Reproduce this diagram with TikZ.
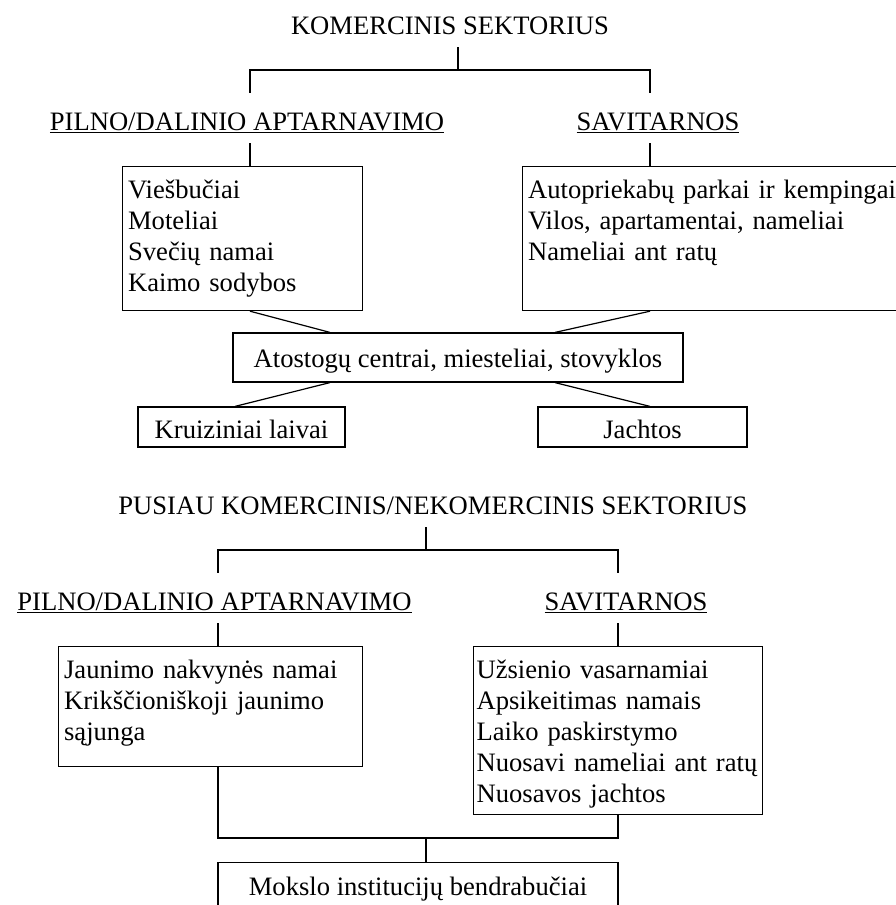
\documentclass[tikz,border=0pt]{standalone}
\usepackage{fontspec}
\setmainfont{Liberation Serif}
\usepackage{tikz}
\usetikzlibrary{positioning,calc}
\definecolor{inkC}{HTML}{000000}
\newcommand{\diagFont}{\fontsize{26.6pt}{31pt}\selectfont}
\tikzset{
  every node/.append style={font=\diagFont,text=inkC},
  link/.style={draw=inkC,line width=1.2pt,line cap=butt},
  headText/.style={inner xsep=0pt,inner ysep=13pt,text height=24pt,text depth=0pt,anchor=base},
  listBox/.style={draw=inkC,line width=1.2pt,anchor=north west,align=left,
                  inner xsep=5.5pt,inner ysep=0pt,text height=32pt},
  flatBox/.style={draw=inkC,line width=1.2pt,inner sep=0pt,align=center},
}

\begin{document}
\begin{tikzpicture}[x=1pt,y=-1pt]
\path[use as bounding box,clip] (0,0) rectangle (896,905);

% Komercinis sektorius
\node[headText] (title1) at (450,34) {KOMERCINIS SEKTORIUS};
\node[headText] (fullHdr) at (247,130) {\underline{PILNO/DALINIO APTARNAVIMO}};
\node[headText] (selfHdr) at (658,130) {\underline{SAVITARNOS}};

\node[listBox,text width=229pt,text depth=112pt] (fullBox) at (122,166)
  {Viešbučiai\\Moteliai\\Svečių namai\\Kaimo sodybos};
\node[listBox,text width=369pt,text depth=112pt] (selfBox) at (522,166)
  {Autopriekabų parkai ir kempingai\\Vilos, apartamentai, nameliai\\Nameliai ant ratų};

\node[flatBox,minimum width=450pt,minimum height=49pt,text height=24pt,text depth=5pt]
  (resort) at (458,357.5) {Atostogų centrai, miesteliai, stovyklos};
\node[flatBox,minimum width=207pt,minimum height=40pt,text height=25pt,text depth=3pt]
  (cruise) at (241.5,427) {Kruiziniai laivai};
\node[flatBox,minimum width=209pt,minimum height=40pt,text height=25pt,text depth=3pt]
  (yacht) at (642.5,427) {Jachtos};

\coordinate (komMid) at (458,70);
\coordinate (komL) at (250,70);
\coordinate (komR) at (650,70);
\draw[link] (komMid |- title1.south) -- (komMid);
\draw[link] (komL |- fullHdr.north) -- (komL) -- (komR) -- (komR |- selfHdr.north);
\draw[link] (komL |- fullHdr.south) -- (komL |- fullBox.north);
\draw[link] (komR |- selfHdr.south) -- (komR |- selfBox.north);
\draw[link] (komL |- fullBox.south) -- ([xshift=-128pt]resort.north);
\draw[link] (komR |- selfBox.south) -- ([xshift=97pt]resort.north);
\draw[link] ([xshift=-128pt]resort.south) -- ([xshift=-6.5pt]cruise.north);
\draw[link] ([xshift=97pt]resort.south) -- ([xshift=7.5pt]yacht.north);

% Pusiau komercinis / nekomercinis sektorius
\node[headText] (title2) at (433,514) {PUSIAU KOMERCINIS/NEKOMERCINIS SEKTORIUS};
\node[headText] (fullHdrB) at (214.5,610) {\underline{PILNO/DALINIO APTARNAVIMO}};
\node[headText] (selfHdrB) at (626,610) {\underline{SAVITARNOS}};

\node[listBox,text width=293pt,text depth=88pt] (youthBox) at (58,646)
  {Jaunimo nakvynės namai\\Krikščioniškoji jaunimo\\sąjunga};
\node[listBox,inner xsep=3pt,text width=283pt,text depth=136pt] (ownBox) at (473,646)
  {Užsienio vasarnamiai\\Apsikeitimas namais\\Laiko paskirstymo\\Nuosavi nameliai ant ratų\\Nuosavos jachtos};

\node[flatBox,anchor=north,minimum width=400pt,text height=33pt,text depth=20pt]
  (dorm) at (418,862) {Mokslo institucijų bendrabučiai};

\coordinate (nkMid) at (426,550);
\coordinate (nkL) at (218,550);
\coordinate (nkR) at (618,550);
\coordinate (dormJoin) at (426,838);
\draw[link] (nkMid |- title2.south) -- (nkMid);
\draw[link] (nkL |- fullHdrB.north) -- (nkL) -- (nkR) -- (nkR |- selfHdrB.north);
\draw[link] (nkL |- fullHdrB.south) -- (nkL |- youthBox.north);
\draw[link] (nkR |- selfHdrB.south) -- (nkR |- ownBox.north);
\draw[link] (nkL |- youthBox.south) -- (nkL |- dormJoin) -- (nkR |- dormJoin) -- (nkR |- ownBox.south);
\draw[link] (dormJoin) -- (dormJoin |- dorm.north);

\end{tikzpicture}
\end{document}
